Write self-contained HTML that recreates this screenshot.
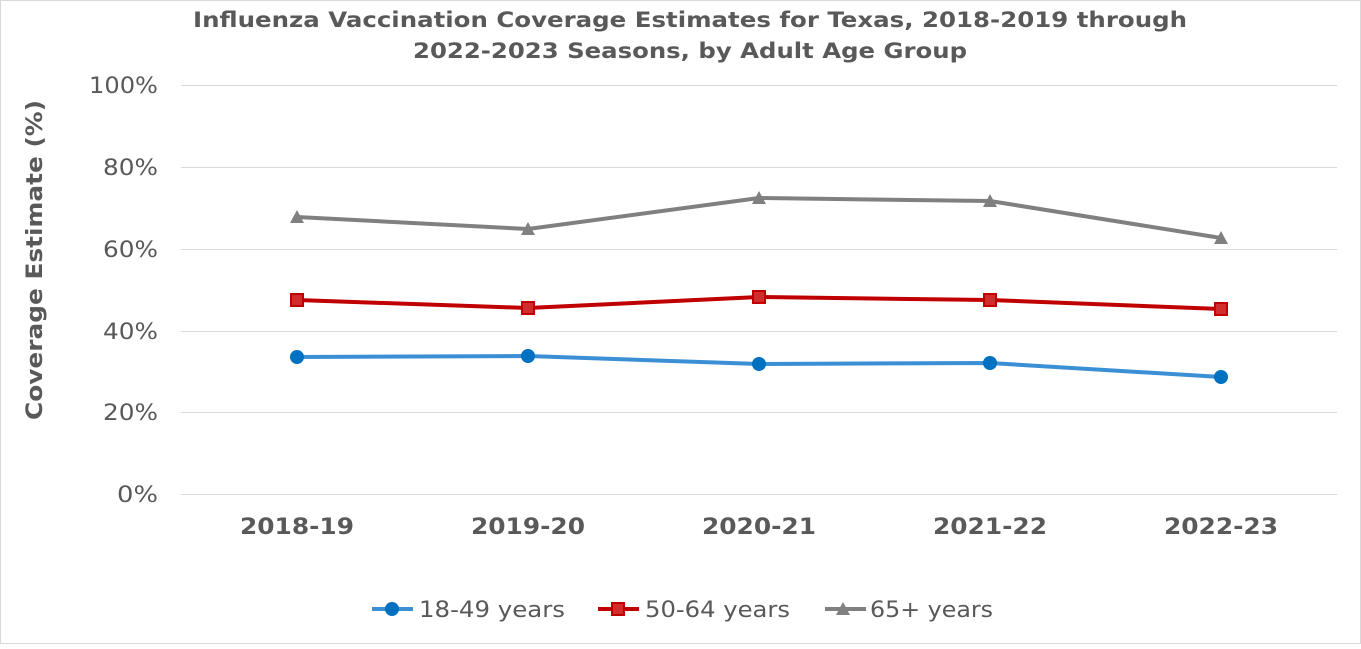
<!DOCTYPE html>
<html><head><meta charset="utf-8"><style>
html,body{margin:0;padding:0;background:#fff;}
svg text{font-family:"DejaVu Sans","Liberation Sans",sans-serif;fill:#595959;}
</style></head><body>
<svg width="1361" height="644" viewBox="0 0 1361 644" xmlns="http://www.w3.org/2000/svg">
<rect x="0.5" y="0.5" width="1360" height="643" fill="#fff" stroke="#d9d9d9"/>
<text x="193" y="27" font-size="21" font-weight="bold" textLength="994" lengthAdjust="spacingAndGlyphs">Influenza Vaccination Coverage Estimates for Texas, 2018-2019 through</text>
<text x="413" y="58" font-size="21" font-weight="bold" textLength="554" lengthAdjust="spacingAndGlyphs">2022-2023 Seasons, by Adult Age Group</text>
<g stroke="#d9d9d9" stroke-width="1">
<line x1="181" y1="85.5" x2="1337" y2="85.5"/>
<line x1="181" y1="167.5" x2="1337" y2="167.5"/>
<line x1="181" y1="249.5" x2="1337" y2="249.5"/>
<line x1="181" y1="331.5" x2="1337" y2="331.5"/>
<line x1="181" y1="412.5" x2="1337" y2="412.5"/>
<line x1="181" y1="494.5" x2="1337" y2="494.5"/>
</g>
<g font-size="22">
<text x="89" y="93" textLength="69" lengthAdjust="spacingAndGlyphs">100%</text>
<text x="103" y="175" textLength="55" lengthAdjust="spacingAndGlyphs">80%</text>
<text x="103" y="257" textLength="55" lengthAdjust="spacingAndGlyphs">60%</text>
<text x="103" y="339" textLength="55" lengthAdjust="spacingAndGlyphs">40%</text>
<text x="103" y="420" textLength="55" lengthAdjust="spacingAndGlyphs">20%</text>
<text x="117" y="502" textLength="41" lengthAdjust="spacingAndGlyphs">0%</text>
</g>
<text transform="translate(42,420) rotate(-90)" font-size="22" font-weight="bold" textLength="320" lengthAdjust="spacingAndGlyphs">Coverage Estimate (%)</text>
<g font-size="22" font-weight="bold">
<text x="240" y="534" textLength="114" lengthAdjust="spacingAndGlyphs">2018-19</text>
<text x="471" y="534" textLength="114" lengthAdjust="spacingAndGlyphs">2019-20</text>
<text x="702" y="534" textLength="114" lengthAdjust="spacingAndGlyphs">2020-21</text>
<text x="933" y="534" textLength="114" lengthAdjust="spacingAndGlyphs">2021-22</text>
<text x="1164" y="534" textLength="114" lengthAdjust="spacingAndGlyphs">2022-23</text>
</g>
<polyline points="297,217 528,229 759,198 990,201 1221,238" fill="none" stroke="#808080" stroke-width="4"/>
<g fill="#808080">
<polygon points="297,210 304,223 290,223"/><polygon points="528,222 535,235 521,235"/><polygon points="759,191 766,204 752,204"/><polygon points="990,194 997,207 983,207"/><polygon points="1221,231 1228,244 1214,244"/>
</g>
<polyline points="297,300 528,308 759,297 990,300 1221,309" fill="none" stroke="#c00000" stroke-width="4"/>
<g fill="#d22d2d" stroke="#c00000" stroke-width="2">
<rect x="291" y="294" width="12" height="12"/><rect x="522" y="302" width="12" height="12"/><rect x="753" y="291" width="12" height="12"/><rect x="984" y="294" width="12" height="12"/><rect x="1215" y="303" width="12" height="12"/>
</g>
<polyline points="297,357 528,356 759,364 990,363 1221,377" fill="none" stroke="#3b8fd5" stroke-width="4"/>
<g fill="#0070c0">
<circle cx="297" cy="357" r="7"/><circle cx="528" cy="356" r="7"/><circle cx="759" cy="364" r="7"/><circle cx="990" cy="363" r="7"/><circle cx="1221" cy="377" r="7"/>
</g>
<line x1="372" y1="609" x2="413" y2="609" stroke="#3b8fd5" stroke-width="4"/>
<circle cx="392" cy="609" r="7" fill="#0070c0"/>
<text x="419" y="617" font-size="22" textLength="146" lengthAdjust="spacingAndGlyphs">18-49 years</text>
<line x1="598" y1="609" x2="639" y2="609" stroke="#c00000" stroke-width="4"/>
<rect x="612" y="603" width="12" height="12" fill="#d22d2d" stroke="#c00000" stroke-width="2"/>
<text x="645" y="617" font-size="22" textLength="145" lengthAdjust="spacingAndGlyphs">50-64 years</text>
<line x1="825" y1="609" x2="866" y2="609" stroke="#808080" stroke-width="4"/>
<polygon points="843,602 850,615 836,615" fill="#808080"/>
<text x="870" y="617" font-size="22" textLength="123" lengthAdjust="spacingAndGlyphs">65+ years</text>
</svg>
</body></html>
